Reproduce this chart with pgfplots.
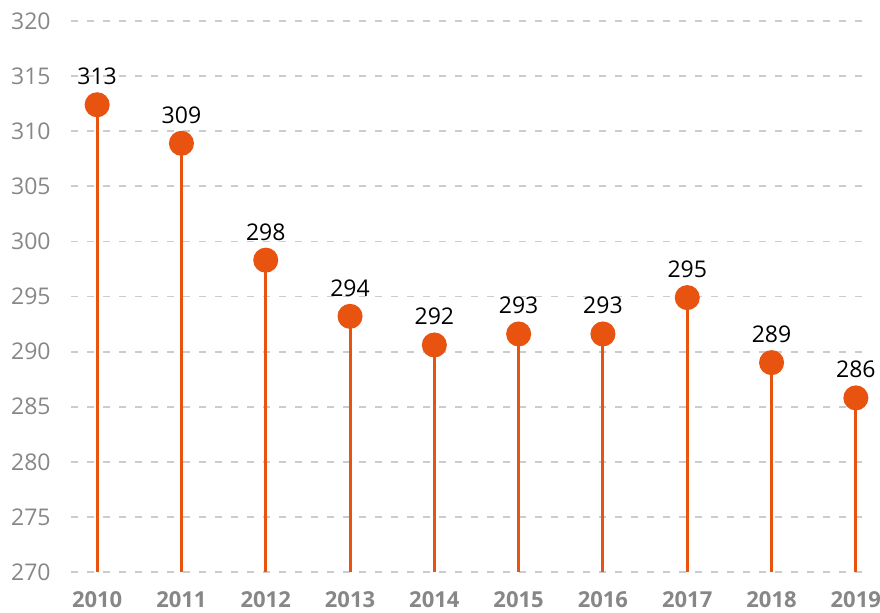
\documentclass[border=0pt]{standalone}
\usepackage{fontspec}
\setmainfont{Open Sans}
\usepackage{pgfplots}
\pgfplotsset{compat=1.18}
\definecolor{lolli}{HTML}{E8540F}
\definecolor{tickgray}{HTML}{878787}
\definecolor{gridgray}{HTML}{CCCCCC}
\begin{document}
\begin{tikzpicture}
\path[use as bounding box] (0,0) rectangle (440pt,306pt);
\begin{axis}[
  at={(35.5pt,20pt)}, anchor=south west,
  scale only axis, width=397.5pt, height=275.5pt,
  xmin=2009.69, xmax=2019.12, ymin=270, ymax=320,
  axis line style={draw=none},
  xtick={2010,...,2019}, ytick={270,275,...,320},
  /pgf/number format/assume math mode=true,
  /pgf/number format/1000 sep={},
  xticklabel style={font=\bfseries\fontsize{11}{13}\selectfont, text=tickgray, anchor=north, inner sep=0pt, yshift=-9.5pt},
  yticklabel style={font=\fontsize{11.5}{13}\selectfont, text=tickgray, anchor=east, inner sep=0pt, xshift=-10pt},
  ymajorgrids, grid style={gridgray, dash pattern=on 3.7pt off 4.3pt, line width=0.9pt},
  major tick length=0pt,
  point meta=explicit symbolic,
  nodes near coords,
  every node near coord/.style={anchor=base, yshift=10pt, font=\fontsize{11.5}{13}\selectfont, text=black},
]
\addplot[ycomb, lolli, line width=1.5pt, mark=*, mark size=5.5pt, mark options={fill=lolli, draw=lolli}] coordinates {
  (2010,312.4) [313]
  (2011,308.9) [309]
  (2012,298.3) [298]
  (2013,293.2) [294]
  (2014,290.6) [292]
  (2015,291.6) [293]
  (2016,291.6) [293]
  (2017,294.9) [295]
  (2018,289.0) [289]
  (2019,285.8) [286]
};
\end{axis}
\end{tikzpicture}
\end{document}
